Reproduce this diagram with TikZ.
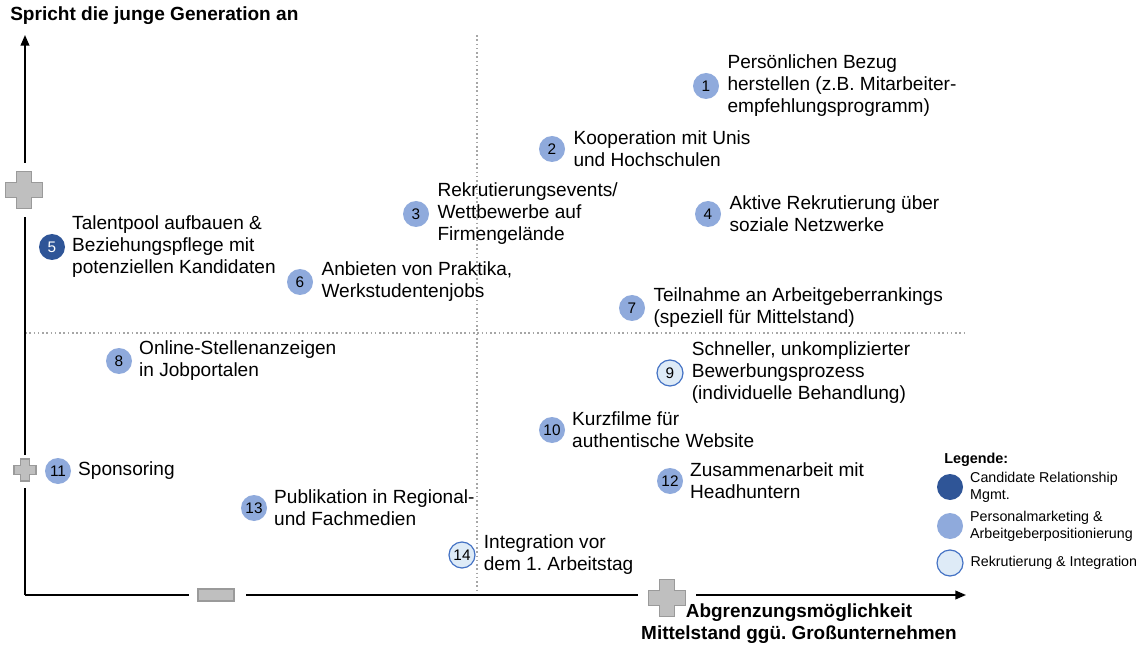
\documentclass[tikz,border=0pt]{standalone}
\usepackage{fontspec}
\setmainfont{Liberation Sans}
\usetikzlibrary{positioning,arrows.meta}
\frenchspacing
\definecolor{crmdark}{HTML}{2F5597}
\definecolor{pmmid}{HTML}{8FAADC}
\definecolor{rilight}{HTML}{DEEBF7}
\definecolor{riedge}{HTML}{4472C4}
\definecolor{signfill}{HTML}{BFBFBF}
\definecolor{signedge}{HTML}{9A9A9A}
\tikzset{
  num/.style={circle, minimum size=26*0.75pt, inner sep=0pt, font=\fontsize{11.5}{13}\selectfont},
  crm/.style={num, fill=crmdark, text=white},
  pm/.style={num, fill=pmmid},
  ri/.style={num, fill=rilight, draw=riedge, line width=0.9pt},
  item/.style={align=left, inner sep=1pt, font=\fontsize{14.3}{16.5}\selectfont},
  legtxt/.style={align=left, inner sep=1pt, font=\fontsize{10.7}{12.8}\selectfont},
  axis/.style={line width=1.3pt, black},
  grid/.style={dotted, line width=1.2pt, gray!70},
  plussign/.pic={
    \filldraw[fill=signfill, draw=signedge, line width=0.8pt]
      (-0.2,-0.5) -- (0.2,-0.5) -- (0.2,-0.2) -- (0.5,-0.2) -- (0.5,0.2) -- (0.2,0.2)
      -- (0.2,0.5) -- (-0.2,0.5) -- (-0.2,0.2) -- (-0.5,0.2) -- (-0.5,-0.2) -- (-0.2,-0.2) -- cycle;
  }
}
\begin{document}
\begin{tikzpicture}[x=0.75pt, y=-0.75pt]
\useasboundingbox (0,0) rectangle (1141,648);

% dotted quadrant lines
\draw[grid] (477,35) -- (477,595);
\draw[grid] (25,333) -- (965,333);

% axes with gaps for the signs
\coordinate (o) at (25,595);
\coordinate (ytop) at (25,35);
\coordinate (xend) at (966,595);
\draw[axis] (o) -- (25,488);
\draw[axis] (25,455) -- (25,217);
\draw[axis, -{Triangle[length=8pt, width=6.5pt]}] (25,163) -- (ytop);
\draw[axis] (o) -- (189,595);
\draw[axis] (246,595) -- (638,595);
\draw[axis, -{Triangle[length=8pt, width=6.5pt]}] (696,595) -- (xend);

% signs on the axes
\pic[scale=37] at (24,190) {plussign};
\pic[scale=22] at (25,470) {plussign};
\pic[scale=37] at (667,598) {plussign};
\filldraw[fill=signfill, draw=signedge, line width=0.8pt] (198,589) rectangle (234,601);

% axis titles
\node[anchor=west, inner sep=0pt, font=\fontsize{14.3}{16.5}\selectfont\bfseries] (ylab) at (10,16) {Spricht die junge Generation an};
\node[align=center, inner sep=0pt, font=\fontsize{14.2}{16.5}\selectfont\bfseries] (xlab) at (799,624) {Abgrenzungsmöglichkeit\\Mittelstand ggü. Großunternehmen};

% measures
\node[pm] (c1) at (706,86) {1};
\node[item, right=5pt of c1] (t1) {Persönlichen Bezug\\herstellen (z.B. Mitarbeiter-\\empfehlungsprogramm)};
\node[pm] (c2) at (552,149) {2};
\node[item, right=5pt of c2] (t2) {Kooperation mit Unis\\und Hochschulen};
\node[pm] (c3) at (416,214) {3};
\node[item, right=5pt of c3] (t3) {Rekrutierungsevents/\\Wettbewerbe auf\\Firmengelände};
\node[pm] (c4) at (708,214) {4};
\node[item, right=5pt of c4] (t4) {Aktive Rekrutierung über\\soziale Netzwerke};
\node[crm] (c5) at (52,247) {5};
\node[item, right=4pt of c5] (t5) {Talentpool aufbauen \&\\Beziehungspflege mit\\potenziellen Kandidaten};
\node[pm] (c6) at (300,282) {6};
\node[item, right=5pt of c6] (t6) {Anbieten von Praktika,\\Werkstudentenjobs};
\node[pm] (c7) at (632,308) {7};
\node[item, right=5pt of c7] (t7) {Teilnahme an Arbeitgeberrankings\\(speziell für Mittelstand)};
\node[pm] (c8) at (119,361) {8};
\node[item, right=4pt of c8] (t8) {Online-Stellenanzeigen\\in Jobportalen};
\node[ri] (c9) at (670,373) {9};
\node[item, right=5pt of c9] (t9) {Schneller, unkomplizierter\\Bewerbungsprozess\\(individuelle Behandlung)};
\node[pm] (c10) at (552,430) {10};
\node[item, right=4pt of c10] (t10) {Kurzfilme für\\authentische Website};
\node[pm] (c11) at (58,471) {11};
\node[item, right=4pt of c11] (t11) {Sponsoring};
\node[pm] (c12) at (670,481) {12};
\node[item, right=4pt of c12] (t12) {Zusammenarbeit mit\\Headhuntern};
\node[pm] (c13) at (254,508) {13};
\node[item, right=4pt of c13] (t13) {Publikation in Regional-\\und Fachmedien};
\node[ri] (c14) at (462,555) {14};
\node[item, right=5pt of c14] (t14) {Integration vor\\dem 1. Arbeitstag};

% legend
\node[anchor=west, inner sep=0pt, font=\fontsize{10.8}{12}\selectfont\bfseries] (leg) at (944,460) {Legende:};
\node[crm] (l1) at (950,487) {};
\node[legtxt, right=4pt of l1] (lt1) {Candidate Relationship\\Mgmt.};
\node[pm] (l2) at (950,526) {};
\node[legtxt, right=4pt of l2] (lt2) {Personalmarketing \&\\Arbeitgeberpositionierung};
\node[ri] (l3) at (950,563) {};
\node[legtxt, right=4pt of l3] (lt3) {Rekrutierung \& Integration};
\end{tikzpicture}
\end{document}
